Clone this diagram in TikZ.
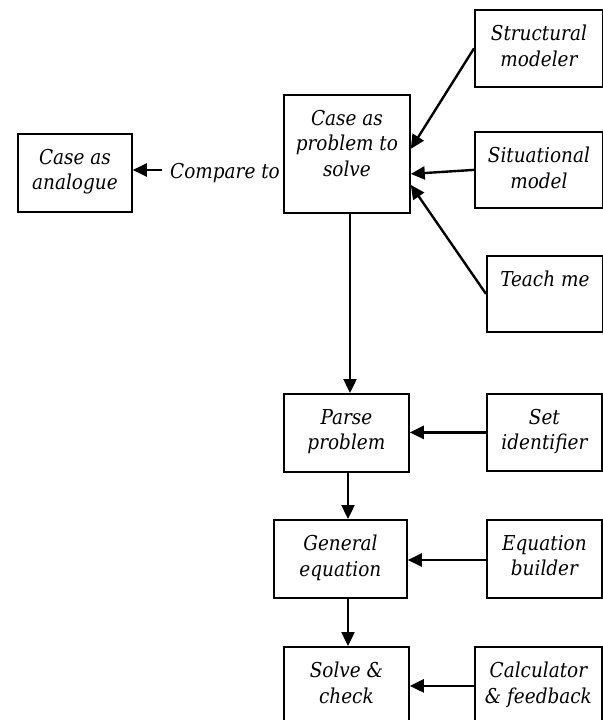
\documentclass[tikz,border=0pt]{standalone}
\usepackage{fontspec}
\setmainfont{DejaVu Serif Condensed}
\usetikzlibrary{arrows.meta,calc}
\tikzset{
  box/.style={draw, line width=1.8bp, rectangle, inner sep=0pt, anchor=north west},
  txt/.style={font=\fontsize{20.5bp}{25.5bp}\selectfont\itshape, align=center, inner sep=0pt},
  arr/.style={line width=2.4bp, -{Triangle[length=14bp,width=13bp]}},
}
\newcommand{\mybox}[6]{% name, x0, y0, x1, y1, text
  \path let \p1=(#2,#3), \p2=(#4,#5) in
    node[box, minimum width=\x2-\x1, minimum height=\y1-\y2,
      label={[txt, anchor=north, yshift=-16bp]north:{#6}}] (#1) at (\p1) {};
}
\begin{document}
\begin{tikzpicture}[x=1bp, y=-1bp]
\useasboundingbox (0,0) rectangle (603,720);
\clip (0,0) rectangle (603,720);
\mybox{ana}{17}{133}{131}{211}{Case as\\analogue}
\mybox{prob}{283}{94}{409}{212}{Case as\\problem to\\solve}
\mybox{struct}{474}{9}{602}{86}{Structural\\modeler}
\mybox{sit}{474}{131}{602}{207}{Situational\\model}
\mybox{teach}{486}{255}{602}{331}{Teach me}
\mybox{parse}{283}{393}{408}{471}{Parse\\problem}
\mybox{setid}{486}{393}{601}{470}{Set\\identifier}
\mybox{geneq}{273}{519}{406}{597}{General\\equation}
\mybox{eqb}{486}{519}{601}{597}{Equation\\builder}
\mybox{solve}{283}{646}{408}{724}{Solve \&\\check}
\mybox{calc}{474}{646}{601}{724}{Calculator\\\& feedback}
\node[txt, inner xsep=8bp] (cmp) at (225,173) {Compare to};
\draw[arr] (cmp.west |- 0,170) -- (ana.east |- 0,170);
\draw[arr] (struct.west) -- ([yshift=5bp]prob.east);
\draw[arr] (sit.west) -- ([yshift=-20bp]prob.east);
\draw[arr] (teach.west) -- ([yshift=-31bp]prob.east);
\draw[arr] (prob.south -| 350,0) -- (parse.north -| 350,0);
\draw[arr] (setid.west) -- (setid.west -| parse.east);
\draw[arr] (parse.south -| 348,0) -- (geneq.north -| 348,0);
\draw[arr] (eqb.west |- 0,560) -- (geneq.east |- 0,560);
\draw[arr] (geneq.south -| 348,0) -- (solve.north -| 348,0);
\draw[arr] (calc.west) -- (calc.west -| solve.east);
\end{tikzpicture}
\end{document}
